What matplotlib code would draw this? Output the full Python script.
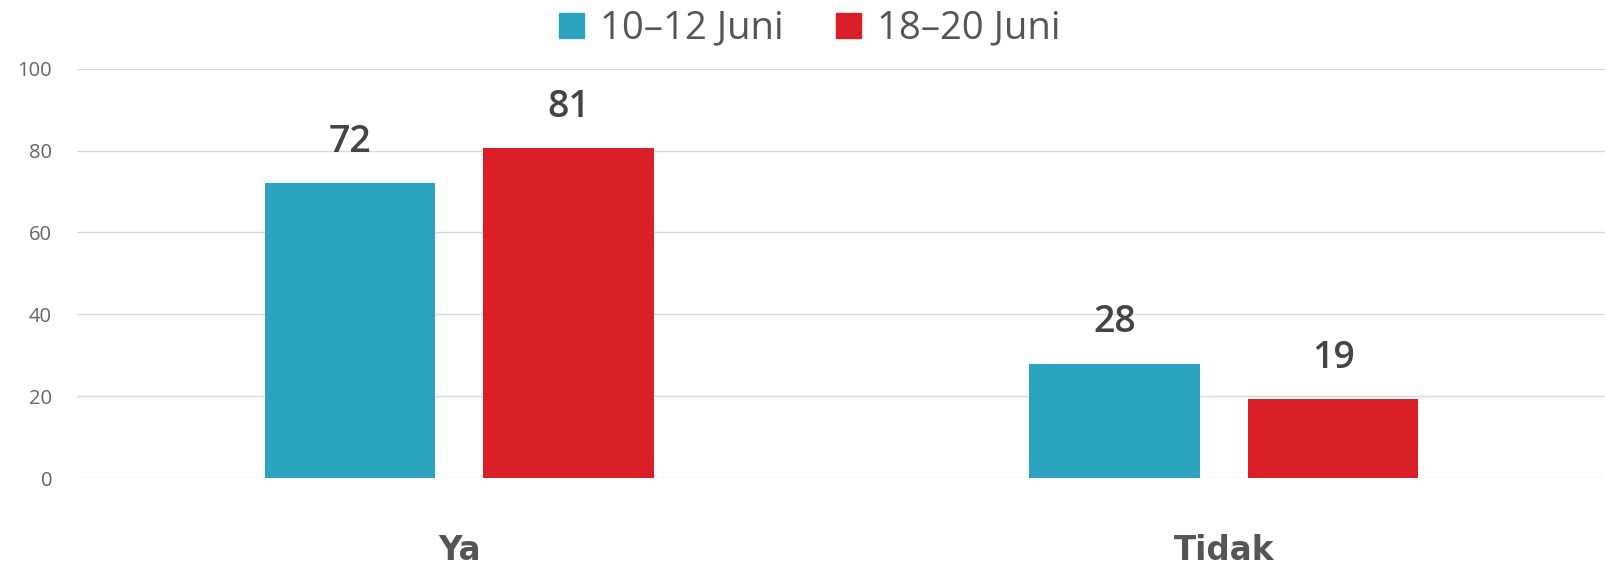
import matplotlib.pyplot as plt
from matplotlib.lines import Line2D
import numpy as np

categories = ['Ya', 'Tidak']
series_names = ['10\u201312 Juni', '18\u201320 Juni']
jun_10_12 = [72, 28]
jun_18_20 = [80.5, 19.4]
labels_10_12 = ['72', '28']
labels_18_20 = ['81', '19']
yticks = [0, 20, 40, 60, 80, 100]

colors = ['#2ca3bf', '#da1f28']

plt.rcParams['font.family'] = ['Open Sans', 'DejaVu Sans']

fig = plt.figure(figsize=(16.06, 5.64), dpi=100)
ax = fig.add_axes([0.048, 0.152, 0.952, 0.7264])

x = np.arange(len(categories))
w = 0.223
off = 0.143
b1 = ax.bar(x - off, jun_10_12, w, color=colors[0], zorder=3)
b2 = ax.bar(x + off, jun_18_20, w, color=colors[1], zorder=3)
for bars, labs in [(b1, labels_10_12), (b2, labels_18_20)]:
    ax.bar_label(bars, labels=labs, padding=16, fontsize=27,
                 color='#444444', fontweight='semibold')

ax.set_xlim(-0.5, 1.5)
ax.set_ylim(0, 100)
ax.set_yticks(yticks)
ax.set_yticklabels([str(v) for v in yticks])
ax.set_xticks(x)
ax.set_xticklabels(categories, fontsize=23.5, fontweight='bold', color='#555555',
                   family='DejaVu Sans')
ax.tick_params(axis='x', length=0, pad=40)
ax.tick_params(axis='y', length=0, pad=18, labelsize=14.5, labelcolor='#666666')
ax.grid(axis='y', color='#d9d9d9', linewidth=1, zorder=0)
for s in ax.spines.values():
    s.set_visible(False)

handles = [Line2D([], [], marker='s', linestyle='none', markersize=18,
                  markerfacecolor=c, markeredgecolor=c) for c in colors]
fig.legend(handles, series_names, loc='upper center', bbox_to_anchor=(0.502, 1.045),
           ncol=2, frameon=False, fontsize=27.5, labelcolor='#555555',
           handletextpad=0.27, columnspacing=1.16, handlelength=1.0)

fig.savefig('out.png', dpi=100)
